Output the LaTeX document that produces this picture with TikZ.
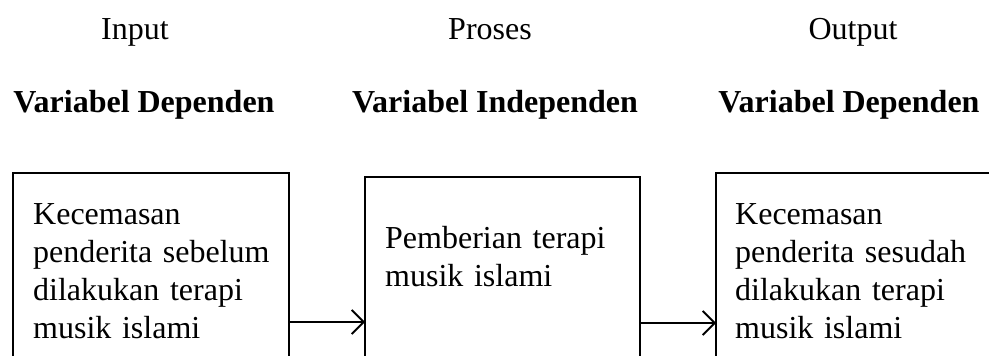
\documentclass[tikz,border=0pt]{standalone}
\usepackage{fontspec}
\setmainfont{Liberation Serif}
\usetikzlibrary{arrows.meta}
\begin{document}
\begin{tikzpicture}[x=1pt,y=-1pt,
  bigfont/.style={font=\fontsize{32}{38}\selectfont},
  head/.style={bigfont, inner sep=0, anchor=base},
  bhead/.style={head, font=\fontsize{32}{38}\selectfont\bfseries},
  boxst/.style={draw=black, line width=1.3pt, rectangle, inner sep=0, outer sep=0, anchor=north west, minimum height=260pt},
  boxtext/.style={bigfont, inner sep=0, anchor=base west, text width=265pt, align=left},
  arr/.style={line width=1.8pt, -{Straight Barb[length=12pt, width=24pt, line width=1.8pt]}}
]
\path[use as bounding box, clip] (0,0) rectangle (989,356);

% headings
\node[head] (in) at (135,39) {Input};
\node[head] (pr) at (490,39) {Proses};
\node[head] (out) at (853,39) {Output};
\node[bhead] (v1) at (144,112) {Variabel Dependen};
\node[bhead] (v2) at (495,112) {Variabel Independen};
\node[bhead] (v3) at (849,112) {Variabel Dependen};

% boxes
\node[boxst, minimum width=276pt] (b1) at (13,173) {};
\node[boxst, minimum width=275pt] (b2) at (365,177) {};
\node[boxst, minimum width=300pt] (b3) at (716,173) {};

% texts
\node[boxtext] (t1) at (33,224) {Kecemasan\\penderita sebelum\\dilakukan terapi\\musik islami};
\node[boxtext] (t2) at (385,248) {Pemberian terapi\\musik islami};
\node[boxtext] (t3) at (735,224) {Kecemasan\\penderita sesudah\\dilakukan terapi\\musik islami};

% connectors
\coordinate (a1) at (0,322);
\coordinate (a2) at (0,323);
\draw[arr] (b1.east |- a1) -- (b2.west |- a1);
\draw[arr] (b2.east |- a2) -- (b3.west |- a2);
\end{tikzpicture}
\end{document}
